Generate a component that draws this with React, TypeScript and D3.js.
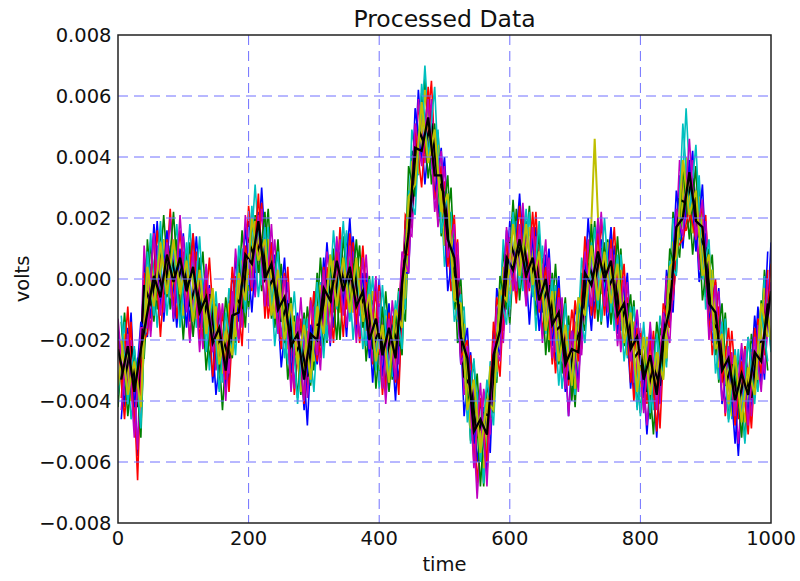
import * as d3 from "d3";

// values in units of 1e-4 volts
// first pass sampled at t = 0, 10, ..., 1000
const timesA = d3.range(0, 1001, 10);
// second pass sampled at t = 5, 15, ..., 995
const timesB = d3.range(5, 1000, 10);

const blueA = [-16, -42, -11, -58, 6, -13, 19, -14, 11, -16, 15, -14, 14, -16, -2, -38, -18, -34, 7, -13, 19, -5, 30, -6, 8, -29, -7, -35, -14, -48, -4, -22, 12, -16, 9, -19, 14, -12, 2, -34, 0, -35, -14, -34, 19, 19, 62, 31, 56, 21, 40, 1, 8, -45, -24, -60, -42, -57, -3, -15, 19, -6, 19, -15, 17, -11, 10, -27, -10, -45, -9, -21, 20, -11, 13, -16, 11, -17, 2, -37, -17, -51, -19, -40, 3, -11, 34, 22, 42, -1, 15, -21, -3, -42, -26, -58, -22, -43, -9, -33, 12];
const greenA = [-42, -11, -39, -26, -26, 12, -10, 21, -10, 13, -20, 12, -12, 9, -27, -8, -43, -7, -21, 16, -10, 21, -4, 23, -16, 5, -33, -12, -38, -9, -30, 7, -21, 10, -20, 15, -10, 11, -27, -5, -34, -4, -33, -3, -14, 42, 37, 66, 31, 48, 11, 30, -21, -16, -53, -31, -68, -29, -34, 10, -15, 23, -1, 24, -12, 7, -24, 5, -31, -12, -42, 2, -8, 19, -15, 13, -15, 10, -25, -7, -44, -22, -51, -16, -27, 22, 7, 40, 8, 31, -6, 8, -34, -11, -44, -25, -53, -18, -35, 3, -23];
const redA = [-20, -46, -14, -66, 2, -17, 16, -9, 23, -13, 9, -20, 9, -20, 7, -27, -11, -37, 1, -22, 24, 2, 25, -13, 4, -23, 4, -38, -13, -35, -4, -26, 4, -21, 17, -10, 12, -21, -1, -28, -2, -37, -12, -38, 21, 17, 57, 41, 65, 18, 32, -4, 13, -36, -25, -67, -37, -48, -6, -17, 14, -8, 22, -4, 22, -18, 3, -31, -7, -35, -7, -23, 10, -13, 19, -10, 17, -22, -6, -40, -16, -41, -17, -49, -2, -6, 16, 16, 23, 6, 21, -25, -9, -45, -17, -46, -22, -49, -13, -25, 5];
const cyanA = [-38, -14, -46, -29, -20, 15, -16, 13, -6, 18, -13, 18, -16, 0, -30, -4, -34, -3, -25, 10, -3, 31, -2, 17, -22, 0, -28, -4, -34, -13, -37, -1, -20, 16, -10, 16, -20, 4, -22, 1, -36, -10, -32, -4, -10, 49, 34, 70, 36, 49, 4, 22, -14, -9, -54, -37, -67, -27, -32, 13, -10, 19, -4, 22, -17, 11, -18, -2, -36, -15, -38, 7, -9, 17, -14, 12, -17, 8, -26, -9, -45, -19, -43, -12, -29, 20, 13, 56, 15, 34, -10, 3, -33, -13, -46, -23, -54, -23, -37, 1, -24];
const magentaA = [-13, -38, -20, -56, 11, -19, 11, -11, 20, -8, 14, -21, 6, -23, -3, -30, -8, -31, 10, -16, 16, -6, 23, -9, 13, -19, -1, -36, -6, -39, -9, -30, 9, -11, 13, -16, 9, -19, 8, -27, -8, -41, -7, -28, 16, 14, 59, 38, 59, 17, 37, 0, 12, -38, -30, -72, -36, -51, -9, -21, 16, -4, 25, -3, 14, -21, 7, -24, -6, -45, -14, -25, 13, -7, 22, -11, 8, -24, -1, -34, -19, -48, -20, -41, 1, -7, 39, 20, 39, 3, 19, -17, -4, -44, -24, -54, -23, -45, -15, -31, -1];
const yellowA = [-35, -18, -40, -32, -18, 5, -7, 13, -6, 9, -12, 8, -13, -2, -22, -9, -31, -8, -19, 6, -5, 19, 4, 13, -13, 1, -23, -14, -37, -17, -27, -2, -15, 6, -11, 7, -11, 4, -17, -4, -28, -12, -29, -9, -6, 38, 35, 62, 39, 44, 11, 16, -13, -15, -49, -41, -62, -29, -30, 4, -5, 17, 2, 17, -7, 5, -20, -4, -27, -17, -36, -4, -8, 46, -5, 12, -9, 3, -25, -14, -37, -19, -39, -21, -26, 12, 14, 40, 15, 27, -2, 3, -29, -22, -45, -31, -47, -24, -33, -3, -20];
const blackA = [-23, -33, -22, -42, -2, -8, 3, -5, 9, -1, 5, -8, -2, -13, -5, -22, -19, -26, -6, -9, 12, 7, 13, -3, 1, -14, -8, -25, -21, -32, -15, -15, 0, -9, 4, -4, 5, -9, -5, -22, -17, -27, -16, -22, 11, 23, 49, 44, 51, 32, 28, 5, -1, -32, -35, -52, -44, -45, -19, -11, 12, 6, 13, 0, 6, -8, -2, -17, -15, -33, -21, -16, 5, -1, 10, -3, 1, -14, -8, -26, -23, -37, -29, -35, -9, -2, 26, 25, 33, 14, 10, -14, -17, -35, -28, -41, -31, -39, -21, -20, -4];

const blueB = [-46, -16, -42, -14, -19, 18, -10, 16, -14, 10, -16, 15, -16, 4, -34, -10, -36, 2, -14, 17, -11, 22, -10, 12, -16, 7, -31, -11, -43, -15, -28, 7, -22, 12, -9, 20, -18, 2, -26, -1, -32, -8, -40, 2, 2, 56, 39, 61, 27, 43, -4, 13, -28, -16, -54, -40, -64, -17, -25, 16, -1, 28, -8, 14, -17, 8, -22, 1, -37, -17, -34, 7, -17, 19, -7, 17, -18, -1, -36, -11, -39, -16, -52, -11, -16, 29, 10, 39, 9, 31, -14, -1, -41, -24, -54, -23, -45, -12, -35, 9];
const greenB = [-14, -45, -23, -52, 13, -14, 16, -6, 22, -13, 10, -19, 7, -30, -6, -36, -6, -26, 8, -16, 21, 2, 22, -13, 13, -21, -6, -39, -11, -35, 2, -23, 6, -20, 14, -11, 13, -16, 1, -36, -9, -37, -12, -25, 37, 27, 61, 33, 51, 14, 34, -10, 0, -42, -27, -68, -35, -44, 1, -10, 26, -7, 19, -5, 15, -25, 2, -28, -6, -40, -8, -17, 18, -14, 12, -15, 14, -22, -5, -42, -19, -46, -14, -32, 10, 2, 37, 13, 37, -7, 10, -25, -8, -46, -27, -52, -19, -39, -7, -30];
const redB = [-39, -9, -49, -22, -18, 15, -19, 13, -9, 16, -10, 15, -20, 1, -32, -8, -33, 4, -21, 11, -4, 28, -13, 12, -17, 2, -35, -13, -41, -6, -27, 4, -20, 9, -19, 15, -15, 11, -22, -4, -38, -11, -34, 8, 8, 50, 30, 63, 26, 37, 4, 21, -26, -20, -60, -39, -60, -14, -32, 12, -2, 24, -6, 22, -11, 4, -28, -3, -35, -10, -27, 14, -12, 15, -12, 13, -15, 5, -34, -16, -43, -20, -50, -8, -16, 10, 13, 23, 13, 24, -17, 0, -34, -16, -48, -27, -51, -16, -31, 3];
const cyanB = [-12, -41, -22, -49, 9, -12, 19, -12, 12, -16, 12, -14, 14, -24, -5, -37, -11, -24, 11, -11, 24, -6, 17, -10, 9, -26, -8, -41, -13, -34, -1, -26, 8, -10, 19, -14, 7, -23, 0, -30, -2, -32, -7, -23, 29, 21, 64, 40, 63, 15, 28, -14, -5, -47, -26, -60, -33, -48, -4, -15, 22, -3, 23, -6, 19, -18, 0, -35, -8, -35, -6, -21, 12, -10, 20, -11, 8, -27, -9, -43, -14, -44, -18, -33, 6, 1, 51, 21, 44, 0, 13, -31, -14, -47, -23, -46, -19, -41, -10, -27];
const magentaB = [-43, -18, -52, -16, -16, 15, -12, 12, -13, 21, -11, 9, -24, 5, -24, -8, -40, -4, -20, 21, -3, 21, -9, 18, -18, 1, -37, -12, -40, -7, -25, 3, -21, 14, -12, 11, -21, 7, -23, 1, -36, -13, -33, 9, 2, 51, 37, 59, 22, 42, 7, 18, -28, -22, -62, -34, -68, -21, -27, 17, -4, 18, -9, 17, -10, 13, -26, -6, -36, -17, -37, 9, -9, 20, -9, 10, -22, 1, -27, -10, -44, -14, -43, -11, -21, 23, 14, 46, 13, 26, -20, -2, -40, -22, -45, -21, -48, -19, -37, 0];
const yellowB = [-20, -38, -27, -42, 4, -9, 12, -5, 13, -5, 6, -14, 3, -18, -3, -28, -17, -25, 2, -7, 20, 6, 13, -12, 3, -20, -8, -28, -15, -33, -9, -18, 8, -9, 7, -11, 7, -14, -5, -27, -15, -34, -10, -16, 27, 31, 58, 38, 49, 22, 28, -7, -8, -43, -33, -57, -40, -43, -4, -7, 18, 1, 18, -2, 9, -17, -4, -27, -15, -35, -6, -12, 11, -7, 9, -8, 5, -21, -11, -37, -19, -38, -24, -33, 4, 7, 39, 21, 29, 1, 8, -23, -18, -41, -25, -47, -29, -38, -8, -19];
const blackB = [-33, -22, -37, -23, -11, 1, -6, 8, -1, 7, -4, 4, -11, -6, -21, -16, -30, -12, -11, 8, 5, 19, 0, 5, -10, -6, -22, -18, -33, -18, -20, -3, -7, 6, -4, 4, -9, -4, -20, -13, -25, -16, -26, -1, 15, 43, 42, 53, 34, 34, 13, 7, -19, -26, -50, -46, -51, -25, -17, 7, 3, 13, 1, 7, -7, 0, -15, -11, -28, -23, -24, 2, -2, 9, 0, 6, -12, -8, -23, -19, -33, -25, -38, -19, -10, 17, 20, 35, 19, 17, -8, -11, -30, -26, -40, -31, -38, -24, -27, -8];

// matplotlib's classic colour cycle, drawn in plotting order
const series = [
  { color: "#0000ff", times: timesA, values: blueA },
  { color: "#008000", times: timesA, values: greenA },
  { color: "#ff0000", times: timesA, values: redA },
  { color: "#00bfbf", times: timesA, values: cyanA },
  { color: "#bf00bf", times: timesA, values: magentaA },
  { color: "#bfbf00", times: timesA, values: yellowA },
  { color: "#000000", times: timesA, values: blackA },
  { color: "#0000ff", times: timesB, values: blueB },
  { color: "#008000", times: timesB, values: greenB },
  { color: "#ff0000", times: timesB, values: redB },
  { color: "#00bfbf", times: timesB, values: cyanB },
  { color: "#bf00bf", times: timesB, values: magentaB },
  { color: "#bfbf00", times: timesB, values: yellowB },
  { color: "#000000", times: timesB, values: blackB },
];

const xTicks = [0, 200, 400, 600, 800, 1000];
const yTicks = [-0.008, -0.006, -0.004, -0.002, 0, 0.002, 0.004, 0.006, 0.008];

export default function App() {
  const width = 800;
  const height = 581;
  const margin = { top: 35, right: 29, bottom: 58, left: 118 };

  const x = d3.scaleLinear()
    .domain([0, 1000])
    .range([margin.left, width - margin.right]);

  const y = d3.scaleLinear()
    .domain([-0.008, 0.008])
    .range([height - margin.bottom, margin.top]);

  const line = d3.line<[number, number]>()
    .x(d => x(d[0]))
    .y(d => y(d[1] * 1e-4));

  const fmt = (v: number) => d3.format(".3f")(v).replace("-", "\u2212");
  const font = "DejaVu Sans, sans-serif";

  // the dense black / yellow core of the band reads heavier in the original
  const strokeFor = (c: string) => (c === "#000000" ? 2.3 : c === "#bfbf00" ? 2.0 : 1.6);

  return (
    <svg width={width} height={height} style={{ position: "absolute", left: 0, top: 0 }}>
      <rect x={0} y={0} width={width} height={height} fill="#fff" />
      <defs>
        <clipPath id="plot-clip">
          <rect x={margin.left} y={margin.top}
            width={width - margin.left - margin.right}
            height={height - margin.top - margin.bottom} />
        </clipPath>
      </defs>

      {/* data lines */}
      <g clipPath="url(#plot-clip)">
        {series.map((s, k) => (
          <path key={k}
            d={line(s.values.map((v, i) => [s.times[i], v] as [number, number])) ?? ""}
            fill="none" stroke={s.color} strokeWidth={strokeFor(s.color)} />
        ))}
      </g>

      {/* grid on top */}
      <g stroke="#7070ff" strokeWidth={1} strokeDasharray="10,6">
        {xTicks.slice(1, -1).map(t => (
          <line key={"gx" + t} x1={x(t)} x2={x(t)} y1={margin.top} y2={height - margin.bottom} />
        ))}
        {yTicks.slice(1, -1).map(t => (
          <line key={"gy" + t} x1={margin.left} x2={width - margin.right} y1={y(t)} y2={y(t)} />
        ))}
      </g>

      <rect x={margin.left} y={margin.top}
        width={width - margin.left - margin.right}
        height={height - margin.top - margin.bottom}
        fill="none" stroke="#222" strokeWidth={1.5} />

      <g fontFamily={font} fontSize={19.5} fill="#111">
        {yTicks.map(t => (
          <text key={"ty" + t} x={margin.left - 6.5} y={y(t)} dy="0.36em" textAnchor="end">{fmt(t)}</text>
        ))}
        {xTicks.map(t => (
          <text key={"tx" + t} x={x(t)} y={545} textAnchor="middle">{t}</text>
        ))}
        <text x={(margin.left + width - margin.right) / 2} y={571} textAnchor="middle">time</text>
        <text transform={`translate(29, ${(margin.top + height - margin.bottom) / 2}) rotate(-90)`} textAnchor="middle">volts</text>
        <text x={(margin.left + width - margin.right) / 2} y={27} textAnchor="middle" fontSize={23.5}>Processed Data</text>
      </g>
    </svg>
  );
}
